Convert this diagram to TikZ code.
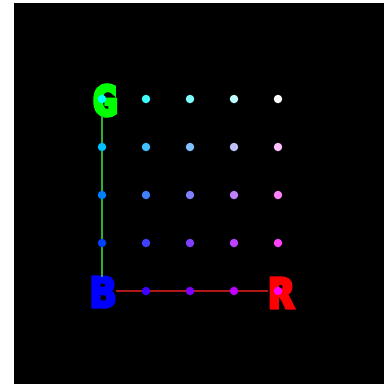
\documentclass[tikz,border=0pt]{standalone}
\usepackage{fontspec}
\newfontfamily\blockfont{DejaVu Sans Mono Bold}
\usepackage{tikz}
\usetikzlibrary{positioning}
\usepackage{xcolor}

\definecolor{glinecol}{RGB}{50,175,50}
\definecolor{rlinecol}{RGB}{175,25,25}
% heavier strokes for the axis letters
\newcommand{\heavy}[1]{\special{pdf:literal direct 2 Tr 3.5 w 0 j}#1\special{pdf:literal direct 0 Tr 1 w}}

\tikzset{
  letter/.style={inner sep=0pt, font=\fontsize{41}{41}\selectfont\blockfont},
  dot/.style={circle, inner sep=0pt, minimum size=8.5pt, draw=none},
}

\begin{document}
\begin{tikzpicture}[x=1pt, y=-1pt]
  \useasboundingbox (0,0) rectangle (384,384);
  \fill[black] (14,3) rectangle (384,384);
  % axis letters
  \node[letter, text=green] (G) at (105,100.5) {\heavy{G}};
  \node[letter, text=blue]  (B) at (103,292) {\heavy{B}};
  \node[letter, text=red]   (R) at (281,293) {\heavy{R}};
  % colour grid
  \foreach \i in {0,...,4}{
    \foreach \j in {0,...,4}{
      \coordinate (c\i\j) at ({102+44*\i},{291-48*\j});
    }
  }
  \draw[glinecol, line width=1.8pt] (G.south -| c00) -- (B.north -| c00);
  \draw[rlinecol, line width=1.8pt] (B.east |- c00) -- (R.west |- c00);
  \foreach \i in {0,...,4}{
    \foreach \j in {0,...,4}{
      \pgfmathtruncatemacro{\rr}{min(255,64*\i)}
      \pgfmathtruncatemacro{\gg}{min(255,64*\j)}
      \definecolor{dotcol}{RGB}{\rr,\gg,255}
      \node[dot, fill=dotcol] (d\i\j) at (c\i\j) {};
    }
  }
\end{tikzpicture}
\end{document}
